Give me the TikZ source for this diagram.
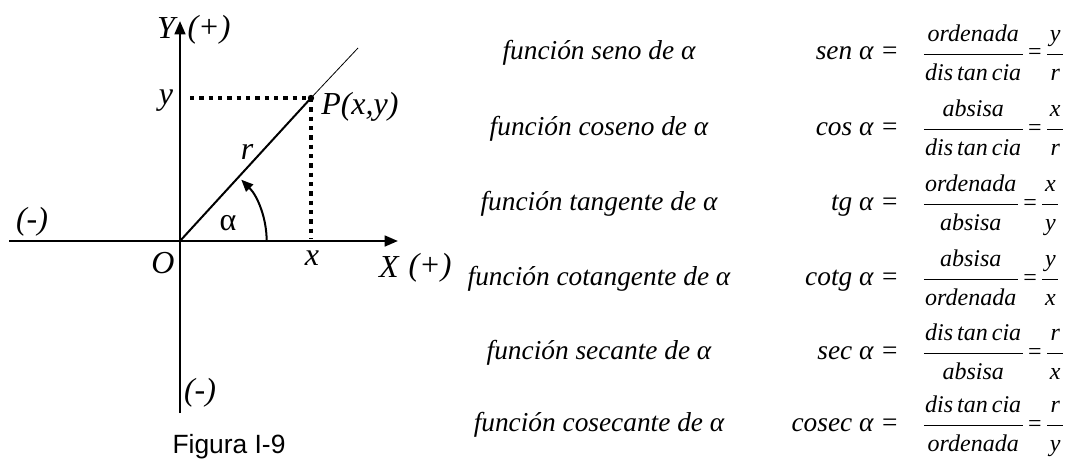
\documentclass[tikz,border=0pt]{standalone}
\usepackage{fontspec}
\setmainfont{Liberation Serif}
\newfontfamily\figfont{Liberation Sans}
\usetikzlibrary{arrows.meta}

\newcommand{\razon}[4]{$\displaystyle{\frac{\raisebox{2.5pt}{\kern1pt#1\kern1pt}}{\raisebox{-3.5pt}{\kern1pt#2\kern1pt}}}{\mbox{\upshape\,=\,}}{\frac{\raisebox{2.5pt}{\kern2pt#3\kern2pt}}{\raisebox{-3.5pt}{\kern2pt#4\kern2pt}}}$}

\begin{document}
\begin{tikzpicture}[x=0.75pt,y=-0.75pt,
    every node/.style={font=\itshape\fontsize{24}{28}\selectfont,inner sep=0pt},
    eje/.style={line width=1.9pt,-{Triangle[length=10pt,width=8pt]}},
    punteo/.style={line width=2.4pt,dash pattern=on 3.2pt off 3.8pt},
    nombre/.style={font=\itshape\fontsize{20.5}{24}\selectfont,anchor=base},
    igual/.style={font=\itshape\fontsize{20.5}{24}\selectfont,anchor=base east},
    razon/.style={font=\itshape\fontsize{18}{22}\selectfont,anchor=base west}]
  \useasboundingbox (0,0) rectangle (1066,460);
  % ejes
  \coordinate (O) at (180,241);
  \coordinate (xizq) at (9,241);
  \coordinate (xder) at (398,241);
  \coordinate (yarr) at (180,21);
  \coordinate (yaba) at (180,413);
  \coordinate (P) at (311,98);
  \coordinate (R) at (358,48);
  \coordinate (Py) at (190,98);
  \coordinate (Px) at (311,239);
  \draw[eje] (xizq) -- (xder);
  \draw[eje] (yaba) -- (yarr);
  \draw[line width=1.5pt] (O) -- (P);
  \draw[line width=0.6pt] (P) -- (R);
  \draw[punteo] (Py) -- (P);
  \draw[punteo] (P) -- (Px);
  \fill (P) circle[radius=2.4pt];
  \draw[line width=1.5pt,-{Triangle[length=9pt,width=7.5pt]}]
    (O) ++(65pt,0) arc[start angle=0,end angle=45,radius=65pt];
  % rotulos
  \node (Y) at (166,28) {Y};
  \node (Ymas) at (209,30) {(+)};
  \node (ylab) at (166,101) {y};
  \node[anchor=west] (Plab) at (321,107) {P(x,y)};
  \node (rlab) at (247,152) {r};
  \node (alfa) at (228,223) {\upshape α};
  \node (xmenos) at (32,222) {(-)};
  \node (Olab) at (163,263) {O};
  \node (xlab) at (312,258) {x};
  \node (X) at (389,267) {X};
  \node (Xmas) at (430,268) {(+)};
  \node (ymenos) at (200,393) {(-)};
  \node[font=\figfont\fontsize{19.8}{22}\selectfont] (fig) at (229,447) {Figura I-9};
  % funciones
  \node[nombre] (fsen) at (599,60) {función seno de α};
  \node[igual] (isen) at (899,60) {sen α =};
  \node[razon] (rsen) at (922,60) {\razon{ordenada}{dis\,tan\,cia}{y}{r}};
  \node[nombre] (fcos) at (599,135) {función coseno de α};
  \node[igual] (icos) at (899,135) {cos α =};
  \node[razon] (rcos) at (922,135) {\razon{absisa}{dis\,tan\,cia}{x}{r}};
  \node[nombre] (ftg) at (599,210) {función tangente de α};
  \node[igual] (itg) at (899,210) {tg α =};
  \node[razon] (rtg) at (922,210) {\razon{ordenada}{absisa}{x}{y}};
  \node[nombre] (fcotg) at (599,285) {función cotangente de α};
  \node[igual] (icotg) at (899,285) {cotg α =};
  \node[razon] (rcotg) at (922,285) {\razon{absisa}{ordenada}{y}{x}};
  \node[nombre] (fsec) at (599,359) {función secante de α};
  \node[igual] (isec) at (899,359) {sec α =};
  \node[razon] (rsec) at (922,359) {\razon{dis\,tan\,cia}{absisa}{r}{x}};
  \node[nombre] (fcosec) at (599,431) {función cosecante de α};
  \node[igual] (icosec) at (899,431) {cosec α =};
  \node[razon] (rcosec) at (922,431) {\razon{dis\,tan\,cia}{ordenada}{r}{y}};
\end{tikzpicture}
\end{document}
